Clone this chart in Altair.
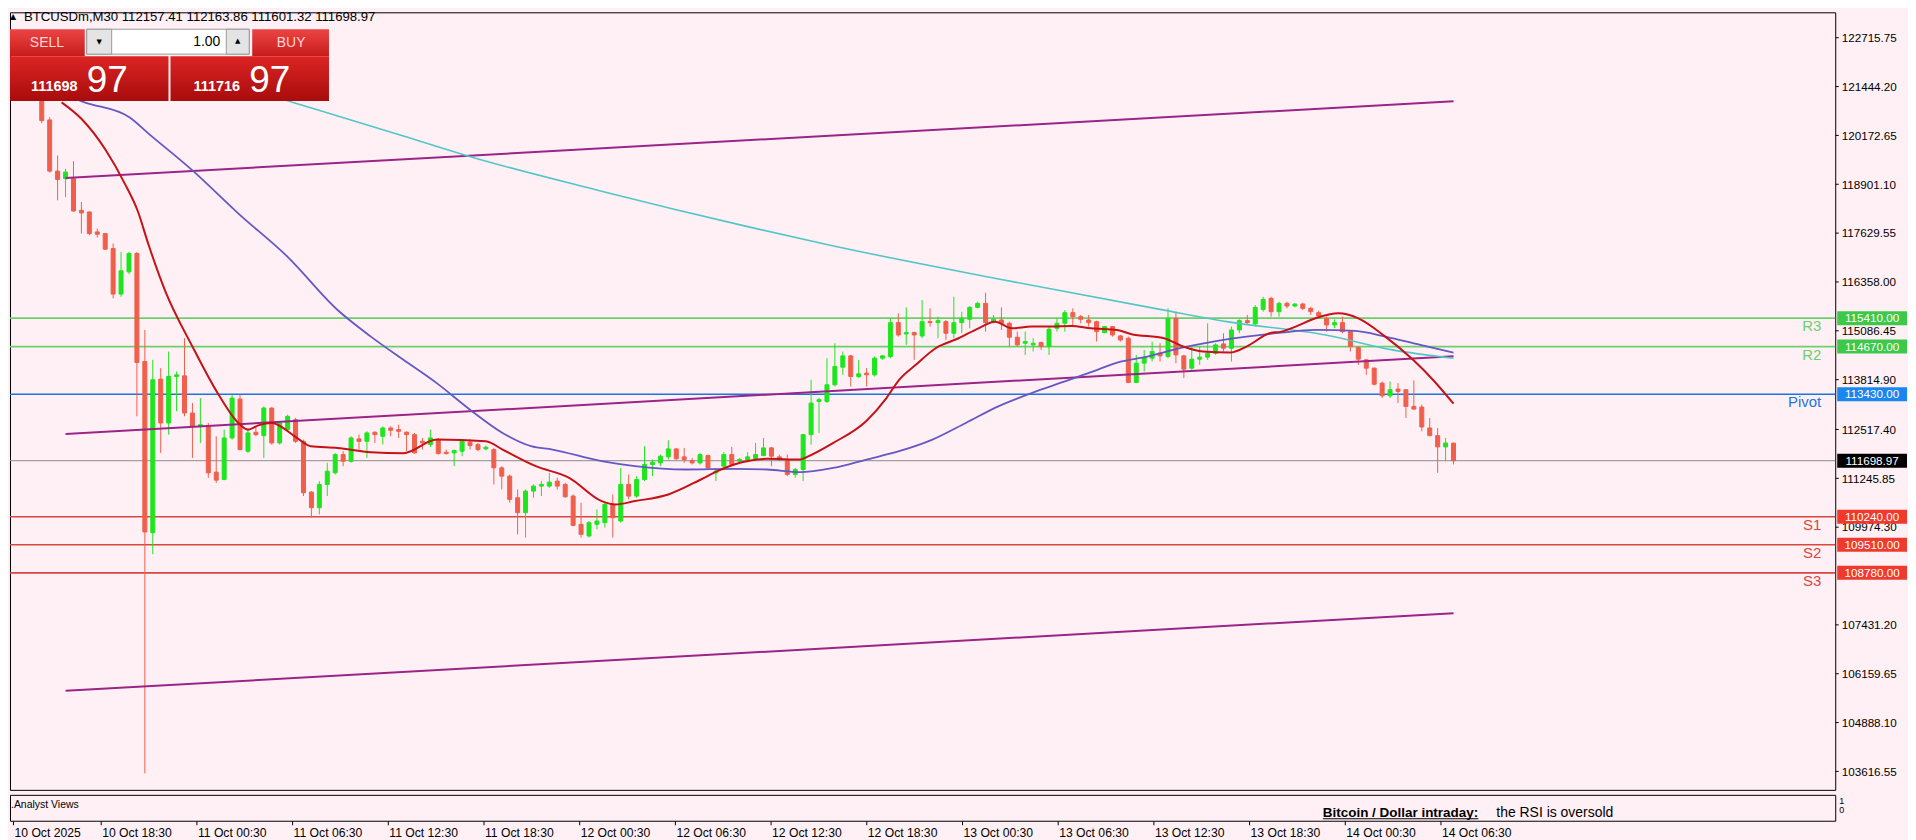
import altair as alt
import pandas as pd

# ---------------- data ----------------
opens = [121350,120570,119238,119039,119039,118217,118174,117655,117612,117222,
         116037,116617,117093,114281,109826,113823,112681,113892,113909,112941,
         112594,112594,111401,111210,112292,113304,111946,112439,112352,113070,
         112162,112508,112767,112205,110882,110475,111081,111384,111859,111686,
         112266,112205,112439,112335,112551,112508,112439,112378,112205,112119,
         112249,111920,111903,111946,112180,112119,112006,111989,111513,111297,
         110735,110346,110908,111038,111038,111167,111081,110778,110043,109740,
         110043,110086,110562,110129,111081,110778,111210,111600,111643,111799,
         112006,111799,111704,111643,111833,111383,111557,111859,111686,111730,
         111755,111833,112032,111799,111730,111340,111470,112378,113243,113243,
         113676,114134,114428,113892,113978,113935,114368,114411,115293,114999,
         115034,114947,115319,115293,115319,115017,115293,115380,115691,115795,
         115319,115363,115276,114913,114757,114714,114774,114671,115146,115276,
         115553,115449,115363,115319,115034,115190,114947,114887,113736,114238,
         114368,114497,114411,115406,114428,114108,114342,114394,114497,114740,
         114627,115103,115345,115259,115639,115925,115579,115795,115726,115778,
         115665,115553,115406,115233,115293,115060,114644,114325,114108,113719,
         113390,113563,113546,113113,113096,112551,112352,112058,112157.41]
highs = [121500,120639,119644,119298,119497,118433,118190,117741,117630,117352,
         117136,117136,117136,115103,114325,114108,114541,114022,114887,113200,
         113330,112681,112335,112508,113416,113416,112551,112595,113113,113090,
         112724,112897,112811,112248,110908,111167,111643,111902,111946,112335,
         112378,112465,112465,112595,112595,112638,112465,112422,112292,112508,
         112292,111989,111989,112249,112266,112162,112093,112032,111557,111340,
         110951,110951,111081,111167,111384,111254,111124,110821,110605,110129,
         110432,110605,110821,111513,111340,111297,112076,111730,111859,112231,
         112020,112032,111773,111903,111859,111513,111920,112058,111773,111920,
         112162,112292,112058,111859,111859,111513,112400,113806,113330,114368,
         114757,114541,114454,114325,114108,114411,114454,115406,115536,115691,
         115060,115882,115665,115449,115363,115968,115579,115726,115838,116072,
         115492,115691,115319,115060,115060,114887,114800,115190,115406,115622,
         115665,115492,115492,115345,115207,115207,114973,114930,114454,114584,
         114800,114757,115665,115579,114454,114671,114671,115276,114757,115017,
         115190,115380,115492,115752,115968,115968,115838,115838,115795,115812,
         115709,115605,115449,115380,115449,115103,114671,114342,114134,113762,
         113762,113719,113563,113788,113157,112811,112551,112292,112163.86]
lows = [120483,119200,118476,118563,118180,117612,117568,117508,117190,115925,
        115968,116556,112854,103560,109264,111902,112378,112984,112854,111773,
        112162,111254,111124,111190,112248,111970,111902,112335,111773,112119,
        112119,112465,112162,110778,110216,110302,110778,111340,111557,111643,
        111989,111773,112162,112119,112335,112292,111946,111885,111989,112058,
        111859,111859,111557,111816,111989,111946,111972,111081,110951,110605,
        109783,109697,110735,110778,110994,110951,110735,109999,109697,109697,
        109913,109956,109697,110086,110692,110735,111167,111297,111557,111730,
        111730,111643,111600,111600,111470,111167,111513,111557,111643,111660,
        111686,111816,111557,111686,111297,111254,111167,112119,112422,113200,
        113633,113935,113633,113849,113633,113892,114325,114368,114930,114714,
        114325,114887,115190,114887,114844,114887,115017,115146,115665,115060,
        115276,115103,114671,114671,114454,114541,114584,114454,115060,115060,
        115190,115276,115190,114800,115017,114930,114800,113719,113719,114022,
        114281,114281,114368,114238,113849,114065,114195,114325,114454,114541,
        114281,115017,115233,115190,115579,115449,115449,115665,115691,115622,
        115492,115432,115060,115146,115017,114541,114195,113935,113660,113330,
        113330,113200,112811,113027,112465,112335,111384,111686,111601.32]
closes = [120553,119238,119021,119212,118200,118148,117612,117594,117205,116037,
          116643,117093,114255,109844,113805,112681,113892,113935,112941,112594,
          112637,111384,111193,112292,113330,111989,112422,112378,113070,112162,
          112681,112854,112205,110864,110475,111081,111427,111859,111686,112292,
          112205,112422,112378,112551,112491,112465,112378,111903,112162,112292,
          111885,111885,111963,112205,112093,111989,112050,111513,111297,110692,
          110346,110908,111038,111081,111141,111038,110761,110017,109783,110086,
          110129,110562,110216,111081,110778,111210,111600,111660,111816,112006,
          111747,111730,111643,111859,111513,111427,111859,111600,111730,111799,
          111859,112032,111816,111730,111340,111470,112378,113200,113287,113676,
          114152,114428,113892,113961,113935,114368,114428,115293,114973,115034,
          114973,115319,115293,115345,115017,115293,115406,115691,115795,115293,
          115380,115276,114913,114714,114800,114757,114671,115120,115276,115553,
          115449,115380,115293,115060,115190,114973,114843,113736,114238,114394,
          114541,114428,115406,114454,114082,114342,114394,114497,114714,114627,
          115103,115345,115293,115691,115899,115579,115795,115726,115778,115665,
          115579,115466,115233,115293,115060,114671,114342,114108,113690,113390,
          113546,113503,113113,113044,112577,112352,112058,112160,111698.97]

red_ma_i = [2.5,5,8.1,10.5,12.1,13.5,15.6,19,22.3,24.8,26,27.3,29,31.9,33.9,37.3,41.5,45.6,49.8,56,
            58.1,62.3,66.5,70.6,72.3,74.8,79,83.1,85.2,87.3,91.5,95.6,96.5,99.8,104,106.5,108.1,110.2,112.7,115.6,
            118.1,120.2,122.3,124.8,127.3,129.8,132.3,135.6,137.3,141.5,143.9,146.4,149.8,151.9,154.8,156.3,158.1,160.6,163.5,166,
            169.4,172.9,175.6,178]
red_ma_p = [121028,120600,119774,118900,118200,117300,116100,114670,113416,112681,112508,112620,112681,112335,112076,112032,111920,111895,112249,112205,
            111989,111557,111254,110648,110562,110648,110821,111210,111427,111600,111747,111730,111800,112162,112740,113330,113806,114195,114627,114887,
            115146,115319,115146,115190,115190,115207,115146,115103,114999,114887,114671,114541,114515,114671,115017,115060,115190,115406,115536,115406,
            114930,114325,113762,113183]

blue_ma_i = [2,5.4,11.05,13.5,19,24.8,31,37.3,41.5,45.6,49.8,54,58.1,61.7,64.4,70.6,74.8,81.2,87.3,91.5,
             95.6,99.8,104,108.1,112.3,116.5,120.6,124.8,129,133.1,135.6,139.4,143.5,147.7,151.9,156.3,160.6,165.6,169.4,173.8,178]
blue_ma_p = [121300,121028,120639,120207,119255,118131,117006,115622,114930,114325,113719,113027,112422,112076,111989,111686,111557,111470,111487,111470,
             111401,111513,111730,111946,112248,112681,113113,113460,113762,114065,114255,114411,114627,114800,114930,115034,115103,115077,114930,114714,114515]

cyan_ma_i = [26,31.9,36.9,45.6,53.5,70.2,89,99.4,120.3,141,149.4,161.9,170.3,178]
cyan_ma_p = [121400,121011,120700,120150,119644,118735,117793,117308,116444,115639,115320,114973,114584,114368]

channel_names = ["upper", "middle", "lower"]
channel_start_i = [3, 3, 3]
channel_end_i = [178, 178, 178]
channel_start_p = [119060, 112397, 105708]
channel_end_p = [121056, 114419, 107730]

level_names = ["R3", "R2", "Pivot", "S1", "S2", "S3"]
level_prices = [115410, 114670, 113430, 110240, 109510, 108780]

last_price = 111698.97
ask_price = 111716.97

y_tick_values = [122715.75, 121444.20, 120172.65, 118901.10, 117629.55, 116358.00, 115086.45,
                 113814.90, 112517.40, 111245.85, 109974.30, 107431.20, 106159.65, 104888.10, 103616.55]

x_tick_index = [-3, 8, 20, 32, 44, 56, 68, 80, 92, 104, 116, 128, 140, 152, 164, 176]
x_tick_labels = ["10 Oct 2025", "10 Oct 18:30", "11 Oct 00:30", "11 Oct 06:30", "11 Oct 12:30",
                 "11 Oct 18:30", "12 Oct 00:30", "12 Oct 06:30", "12 Oct 12:30", "12 Oct 18:30",
                 "13 Oct 00:30", "13 Oct 06:30", "13 Oct 12:30", "13 Oct 18:30", "14 Oct 00:30",
                 "14 Oct 06:30"]

header_text = "BTCUSDm,M30  112157.41 112163.86 111601.32 111698.97"

# ---------------- styling ----------------
BG = "#fff0f5"
UP = "#1ee61e"
DOWN = "#ef5f4c"
R_COL = "#6ccf6c"
P_COL = "#1f74dc"
S_COL = "#d9473f"
FONT = "Liberation Sans"
AX_SIZE = 11.7

W, H = 1831, 780
IND_H = 26
x_scale = alt.Scale(domain=[-3.375, 225.5], nice=False, zero=False)
y_scale = alt.Scale(domain=[103131, 123372], nice=False, zero=False)

n = len(opens)
bars = pd.DataFrame({"i": list(range(n)), "o": opens, "h": highs, "l": lows, "c": closes})
bars["dir"] = ["up" if c >= o else "down" for o, c in zip(opens, closes)]
dir_scale = alt.Scale(domain=["up", "down"], range=[UP, DOWN])

lv_colors = [R_COL, R_COL, P_COL, S_COL, S_COL, S_COL]
levels = pd.DataFrame({"name": level_names, "p": level_prices, "col": lv_colors})

one = pd.DataFrame({"k": [0]})

# right price axis on its own invisible layer
axis_layer = alt.Chart(pd.DataFrame({"p": y_tick_values})).mark_tick(opacity=0).encode(
    y=alt.Y("p:Q", scale=y_scale, axis=alt.Axis(
        orient="right", values=y_tick_values, format=".2f", title=None, grid=False,
        domain=False, ticks=True, tickSize=3, tickColor="black", labelPadding=3,
        labelFontSize=AX_SIZE, labelColor="black", labelFont=FONT, labelOverlap=False,
        labelFlush=False, labelBound=False)),
)

level_rules = alt.Chart(levels).mark_rule(strokeWidth=1.6).encode(
    y=alt.Y("p:Q", scale=y_scale, axis=None),
    color=alt.Color("col:N", scale=None),
)

bid_line = alt.Chart(pd.DataFrame({"p": [last_price]})).mark_rule(
    color="#8c8c8c", strokeWidth=1).encode(y=alt.Y("p:Q", scale=y_scale, axis=None))

wicks = alt.Chart(bars).mark_rule(strokeWidth=1).encode(
    x=alt.X("i:Q", scale=x_scale, axis=None),
    y=alt.Y("l:Q", scale=y_scale, axis=None),
    y2="h:Q",
    color=alt.Color("dir:N", scale=dir_scale, legend=None),
)
bodies = alt.Chart(bars).mark_bar(size=4, strokeWidth=1).encode(
    x=alt.X("i:Q", scale=x_scale, axis=None),
    y=alt.Y("o:Q", scale=y_scale, axis=None),
    y2="c:Q",
    color=alt.Color("dir:N", scale=dir_scale, legend=None),
    stroke=alt.Stroke("dir:N", scale=dir_scale, legend=None),
)

chan_rows = []
for nm, i0, i1, p0, p1 in zip(channel_names, channel_start_i, channel_end_i, channel_start_p, channel_end_p):
    chan_rows.append({"line": nm, "i": i0, "p": p0})
    chan_rows.append({"line": nm, "i": i1, "p": p1})
channels = alt.Chart(pd.DataFrame(chan_rows)).mark_line(color="#9c2488", strokeWidth=2).encode(
    x=alt.X("i:Q", scale=x_scale, axis=None),
    y=alt.Y("p:Q", scale=y_scale, axis=None),
    detail="line:N",
)


def ma_line(xs, ps, color, width):
    df = pd.DataFrame({"i": xs, "p": ps})
    return alt.Chart(df).mark_line(color=color, strokeWidth=width, interpolate="monotone").encode(
        x=alt.X("i:Q", scale=x_scale, axis=None),
        y=alt.Y("p:Q", scale=y_scale, axis=None),
    )


cyan_line = ma_line(cyan_ma_i, cyan_ma_p, "#52c6c6", 1.6)
blue_line = ma_line(blue_ma_i, blue_ma_p, "#6458c4", 1.8)
red_line = ma_line(red_ma_i, red_ma_p, "#c41216", 2.0)

level_text = alt.Chart(levels).mark_text(
    align="right", baseline="top", dy=1, fontSize=15, font=FONT).encode(
    x=alt.value(W - 14),
    y=alt.Y("p:Q", scale=y_scale, axis=None),
    text="name:N",
    color=alt.Color("col:N", scale=None),
)

box_prices = [115410, 114670, 113430, last_price, 110240, 109510, 108780]
box_colors = ["#3ec84a", "#3ec84a", "#1a86f0", "#000000", "#f03a2e", "#f03a2e", "#f03a2e"]
boxes_df = pd.DataFrame({"p": box_prices, "col": box_colors,
                         "lab": ["%.2f" % v for v in box_prices]})
price_boxes = alt.Chart(boxes_df).mark_point(
    shape="M-1,-0.2H1V0.2H-1Z", size=70 * 70, filled=True, opacity=1, strokeWidth=0).encode(
    x=alt.value(W + 37),
    y=alt.Y("p:Q", scale=y_scale, axis=None),
    color=alt.Color("col:N", scale=None),
)
price_box_text = alt.Chart(boxes_df).mark_text(
    color="white", fontSize=AX_SIZE, font=FONT, align="center", baseline="middle").encode(
    x=alt.value(W + 37),
    y=alt.Y("p:Q", scale=y_scale, axis=None),
    text="lab:N",
)


def rect(x0, x1, y0, y1, fill, stroke=None):
    kw = {"color": fill}
    if stroke is not None:
        kw["stroke"] = stroke
        kw["strokeWidth"] = 1
    return alt.Chart(one).mark_rect(**kw).encode(
        x=alt.value(x0), x2=alt.value(x1), y=alt.value(y0), y2=alt.value(y1))


def txt(s, x, y, size, color="black", align="left", baseline="middle", weight="normal", font=FONT):
    return alt.Chart(one).mark_text(
        text=s, fontSize=size, color=color, align=align, baseline=baseline,
        fontWeight=weight, font=font).encode(x=alt.value(x), y=alt.value(y))


def grad(top, bottom):
    return {"gradient": "linear", "x1": 0, "y1": 0, "x2": 0, "y2": 1,
            "stops": [{"offset": 0, "color": top}, {"offset": 1, "color": bottom}]}


panel = [
    txt("\u25b2", 0, 5, 8, font="DejaVu Sans"),
    txt(header_text, 14, 5, 13.2),
    rect(0, 75, 17, 44, grad("#ec4444", "#c81c1c")),
    rect(243, 320, 17, 44, grad("#ec4444", "#c81c1c")),
    rect(77, 240, 17, 42, "white", "#9a9a9a"),
    rect(77, 102, 17, 42, "#e4e4e4", "#9a9a9a"),
    rect(217, 240, 17, 42, "#e4e4e4", "#9a9a9a"),
    rect(0, 159, 44, 89, grad("#dc2424", "#a80c0c")),
    rect(161, 320, 44, 89, grad("#dc2424", "#a80c0c")),
    txt("SELL", 37, 31, 14, color="#ffd6d6", align="center"),
    txt("BUY", 282, 31, 14, color="#ffd6d6", align="center"),
    txt("1.00", 211, 30, 14, align="right"),
    txt("\u25bc", 89.5, 30, 7, align="center", font="DejaVu Sans"),
    txt("\u25b2", 228.5, 29, 7, align="center", font="DejaVu Sans"),
    txt("%d" % int(last_price), 21, 79, 14.5, color="white", baseline="alphabetic", weight="bold"),
    txt("%02d" % round((last_price % 1) * 100), 77, 80, 37, color="white", baseline="alphabetic"),
    txt("%d" % int(ask_price), 184, 79, 14.5, color="white", baseline="alphabetic", weight="bold"),
    txt("%02d" % round((ask_price % 1) * 100), 240, 80, 37, color="white", baseline="alphabetic"),
]

main = alt.layer(
    axis_layer, level_rules, bid_line, wicks, bodies, channels, cyan_line, blue_line, red_line,
    level_text, price_boxes, price_box_text, *panel
).properties(width=W, height=H).resolve_axis(y="independent", x="independent")

# ---------------- indicator strip with the time axis ----------------
arr_v = ",".join(str(v) for v in x_tick_index)
arr_l = ",".join("'%s'" % s for s in x_tick_labels)
label_expr = "[%s][indexof([%s], datum.value)]" % (arr_l, arr_v)

time_axis = alt.Chart(pd.DataFrame({"t": x_tick_index})).mark_tick(opacity=0).encode(
    x=alt.X("t:Q", scale=x_scale, axis=alt.Axis(
        orient="bottom", values=x_tick_index, labelExpr=label_expr, title=None, grid=False,
        domain=False, ticks=True, tickSize=4, tickColor="black", labelAlign="left",
        labelOffset=1, labelPadding=2, labelFontSize=12.2, labelFont=FONT, labelColor="black",
        labelOverlap=False, labelFlush=False, labelBound=False)),
)

ind = alt.layer(
    time_axis,
    txt(".Analyst Views", 1, 10, 10.5),
    txt("Bitcoin / Dollar intraday:", 1317, 22, 13.5, weight="bold", baseline="alphabetic"),
    alt.Chart(one).mark_rule(color="black", strokeWidth=1).encode(
        x=alt.value(1317), x2=alt.value(1473), y=alt.value(24)),
    txt("the RSI is oversold", 1491, 22, 14, baseline="alphabetic"),
    txt("1", W + 4, 6, 9),
    txt("0", W + 4, 15, 9),
).properties(width=W, height=IND_H)

chart = alt.vconcat(main, ind, spacing=3).properties(
    background=BG, padding=0
).configure_view(stroke="black", strokeWidth=1, fill=BG)

chart.save("out.html", embed_options={"renderer": "svg", "actions": False})
